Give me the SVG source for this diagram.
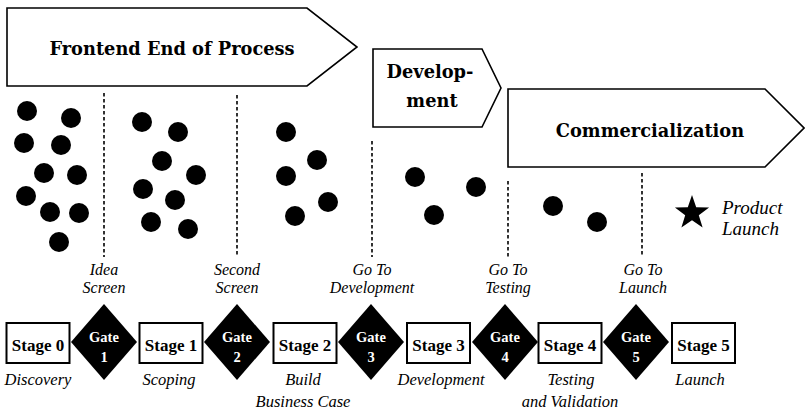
<svg xmlns="http://www.w3.org/2000/svg" width="805" height="411" viewBox="0 0 805 411">
  <style>
    .phase { fill: #fff; stroke: #000; stroke-width: 1.6; stroke-linejoin: miter; }
    .phase-label { font-family: "DejaVu Serif", "Liberation Serif", serif; font-weight: bold; font-size: 17.8px; fill: #000; text-anchor: middle; }
    .dot { fill: #000; }
    .gate-line { stroke: #000; stroke-width: 1.6; stroke-dasharray: 3.5 2.5; fill: none; }
    .note { font-family: "Liberation Serif", serif; font-style: italic; font-size: 16.5px; fill: #000; text-anchor: middle; }
    .caption { font-family: "Liberation Serif", serif; font-style: italic; font-size: 16px; fill: #000; text-anchor: middle; }
    .note-left { font-family: "Liberation Serif", serif; font-style: italic; font-size: 19px; fill: #000; text-anchor: start; }
    .stage-box { fill: #fff; stroke: #000; stroke-width: 2; }
    .stage-label { font-family: "Liberation Serif", serif; font-weight: bold; font-size: 17px; fill: #000; text-anchor: middle; }
    .gate { fill: #000; }
    .gate-label { font-family: "Liberation Serif", serif; font-weight: bold; font-size: 14.5px; fill: #fff; text-anchor: middle; }
  </style>
  <defs>
    <circle id="bead" r="10" class="dot"/>
    <rect id="stage" x="-31.5" y="-20" width="63" height="40" class="stage-box"/>
    <polygon id="diamond" points="0,-38 33,0 0,38 -33,0" class="gate"/>
  </defs>

  <!-- phase banners -->
  <g id="phase-frontend">
    <polygon class="phase" points="7,8 307,8 357,47 307,86 7,86"/>
    <text class="phase-label" x="172" y="55">Frontend End of Process</text>
  </g>
  <g id="phase-development">
    <polygon class="phase" points="373,49 482,49 501,88 482,127 373,127"/>
    <text class="phase-label" x="430" y="78">Develop-</text>
    <text class="phase-label" x="432" y="107">ment</text>
  </g>
  <g id="phase-commercialization">
    <polygon class="phase" points="508,89 765,89 804,128 765,167 508,167"/>
    <text class="phase-label" x="650" y="137">Commercialization</text>
  </g>

  <!-- idea funnel: ideas shrinking at each gate -->
  <g id="ideas-stage0">
    <use href="#bead" x="27" y="111"/>
    <use href="#bead" x="71" y="118"/>
    <use href="#bead" x="24" y="143"/>
    <use href="#bead" x="61" y="145"/>
    <use href="#bead" x="44" y="173"/>
    <use href="#bead" x="77" y="175"/>
    <use href="#bead" x="26" y="196"/>
    <use href="#bead" x="50" y="212"/>
    <use href="#bead" x="79" y="213"/>
    <use href="#bead" x="59" y="242"/>
  </g>
  <g id="ideas-stage1">
    <use href="#bead" x="142" y="122"/>
    <use href="#bead" x="178" y="132"/>
    <use href="#bead" x="162" y="161"/>
    <use href="#bead" x="196" y="175"/>
    <use href="#bead" x="143" y="189"/>
    <use href="#bead" x="175" y="200"/>
    <use href="#bead" x="151" y="222"/>
    <use href="#bead" x="188" y="229"/>
  </g>
  <g id="ideas-stage2">
    <use href="#bead" x="286" y="132"/>
    <use href="#bead" x="317" y="160"/>
    <use href="#bead" x="286" y="176"/>
    <use href="#bead" x="328" y="202"/>
    <use href="#bead" x="295" y="216"/>
  </g>
  <g id="ideas-stage3">
    <use href="#bead" x="415" y="177"/>
    <use href="#bead" x="476" y="187"/>
    <use href="#bead" x="434" y="215"/>
  </g>
  <g id="ideas-stage4">
    <use href="#bead" x="553" y="206"/>
    <use href="#bead" x="597" y="222"/>
  </g>
  <g id="product-launch">
    <polygon fill="#000" points="692,195 696.2,207.2 709.1,207.4 698.8,215.2 702.6,227.6 692,220.2 681.4,227.6 685.2,215.2 674.9,207.4 687.8,207.2"/>
    <text class="note-left" x="722" y="214">Product</text>
    <text class="note-left" x="722" y="235">Launch</text>
  </g>

  <!-- gate decision lines -->
  <g id="connectors">
    <line class="gate-line" x1="104" y1="93" x2="104" y2="257"/>
    <line class="gate-line" x1="237" y1="95" x2="237" y2="257"/>
    <line class="gate-line" x1="372" y1="141" x2="372" y2="257"/>
    <line class="gate-line" x1="508" y1="181" x2="508" y2="257"/>
    <line class="gate-line" x1="642" y1="173" x2="642" y2="257"/>
  </g>

  <!-- gate decision captions -->
  <g id="gate-captions">
    <text class="caption" x="104" y="275">Idea</text>
    <text class="caption" x="104" y="293">Screen</text>
    <text class="caption" x="237" y="275">Second</text>
    <text class="caption" x="237" y="293">Screen</text>
    <text class="caption" x="372" y="275">Go To</text>
    <text class="caption" x="372" y="293">Development</text>
    <text class="caption" x="508" y="275">Go To</text>
    <text class="caption" x="508" y="293">Testing</text>
    <text class="caption" x="643" y="275">Go To</text>
    <text class="caption" x="643" y="293">Launch</text>
  </g>

  <!-- stages -->
  <g id="stage0">
    <use href="#stage" x="38" y="343"/>
    <text class="stage-label" x="38" y="351">Stage 0</text>
    <text class="note" x="38" y="385">Discovery</text>
  </g>
  <g id="stage1">
    <use href="#stage" x="171" y="343"/>
    <text class="stage-label" x="171" y="351">Stage 1</text>
    <text class="note" x="169" y="385">Scoping</text>
  </g>
  <g id="stage2">
    <use href="#stage" x="305" y="343"/>
    <text class="stage-label" x="305" y="351">Stage 2</text>
    <text class="note" x="303" y="385">Build</text>
    <text class="note" x="303" y="407">Business Case</text>
  </g>
  <g id="stage3">
    <use href="#stage" x="438.5" y="343"/>
    <text class="stage-label" x="438.5" y="351">Stage 3</text>
    <text class="note" x="441" y="385">Development</text>
  </g>
  <g id="stage4">
    <use href="#stage" x="570" y="343"/>
    <text class="stage-label" x="570" y="351">Stage 4</text>
    <text class="note" x="571" y="385">Testing</text>
    <text class="note" x="570" y="407">and Validation</text>
  </g>
  <g id="stage5">
    <use href="#stage" x="703.5" y="343"/>
    <text class="stage-label" x="703.5" y="351">Stage 5</text>
    <text class="note" x="700" y="385">Launch</text>
  </g>

  <!-- gates -->
  <g id="gate1">
    <use href="#diamond" x="104" y="342"/>
    <text class="gate-label" x="104" y="342">Gate</text>
    <text class="gate-label" x="104" y="362">1</text>
  </g>
  <g id="gate2">
    <use href="#diamond" x="237" y="342"/>
    <text class="gate-label" x="237" y="342">Gate</text>
    <text class="gate-label" x="237" y="362">2</text>
  </g>
  <g id="gate3">
    <use href="#diamond" x="371" y="342"/>
    <text class="gate-label" x="371" y="342">Gate</text>
    <text class="gate-label" x="371" y="362">3</text>
  </g>
  <g id="gate4">
    <use href="#diamond" x="505" y="342"/>
    <text class="gate-label" x="505" y="342">Gate</text>
    <text class="gate-label" x="505" y="362">4</text>
  </g>
  <g id="gate5">
    <use href="#diamond" x="636" y="342"/>
    <text class="gate-label" x="636" y="342">Gate</text>
    <text class="gate-label" x="636" y="362">5</text>
  </g>
</svg>
